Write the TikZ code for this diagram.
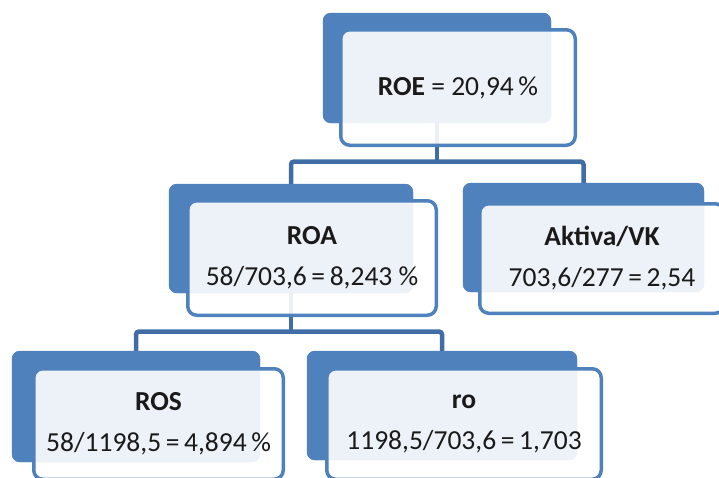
\documentclass[tikz,border=0pt]{standalone}
\usepackage{fontspec}
\setmainfont{Carlito}
\definecolor{backblue}{RGB}{79,129,189}
\definecolor{linkblue}{RGB}{64,109,166}
\definecolor{txt}{RGB}{26,26,26}
\begin{document}
\begin{tikzpicture}[x=1pt,y=-1pt,
  backbox/.style={rectangle, rounded corners=8pt, fill=backblue, draw=none, inner sep=0pt},
  frontbox/.style={rectangle, rounded corners=9pt, draw=backblue, line width=3.5pt,
    fill=white, fill opacity=0.9, text opacity=1, text=txt, align=center, inner sep=0pt,
    font=\fontsize{27.5}{41}\selectfont},
  link/.style={draw=linkblue, line width=4.5pt, rounded corners=3pt}]
\useasboundingbox (0,0) rectangle (719,477);
\clip (0,0) rectangle (719,477);
% back boxes (nodes, placed first for connectors)
\path
  node[backbox, minimum width=228pt, minimum height=110pt] (roeB) at (437,68) {}
  node[backbox, minimum width=244pt, minimum height=109pt] (roaB) at (291,238.5) {}
  node[backbox, minimum width=241pt, minimum height=109pt] (akB) at (583.5,237.5) {}
  node[backbox, minimum width=248pt, minimum height=111pt] (rosB) at (136,406.5) {}
  node[backbox, minimum width=270pt, minimum height=109pt] (roB) at (442,405.5) {};
% junction coordinates
\coordinate (j1) at (437,161.5);
\coordinate (j2) at (291,331.5);
% connectors
\draw[link] (roaB.north) |- (j1) -| (akB.north);
\draw[link] (roeB.center) -- (j1);
\draw[link] (rosB.north) |- (j2) -| (roB.north);
\draw[link] (roaB.center) -- (j2);
% redraw back boxes over connectors
\fill[backblue, rounded corners=8pt] (roeB.north west) rectangle (roeB.south east);
\fill[backblue, rounded corners=8pt] (roaB.north west) rectangle (roaB.south east);
\fill[backblue, rounded corners=8pt] (akB.north west) rectangle (akB.south east);
\fill[backblue, rounded corners=8pt] (rosB.north west) rectangle (rosB.south east);
\fill[backblue, rounded corners=8pt] (roB.north west) rectangle (roB.south east);
% front boxes
\node[frontbox, minimum width=234.5pt, minimum height=115.5pt] (roe) at (458,87.5)
  {\textbf{ROE} = 20,94\,\%};
\node[frontbox, minimum width=248.5pt, minimum height=114.5pt] (roa) at (312,258)
  {\textbf{ROA}\\58/703,6\,=\,8,243 \%};
\node[frontbox, minimum width=244.5pt, minimum height=109.5pt] (ak) at (602,258.5)
  {\textbf{Aktiva/VK}\\703,6/277\,=\,2,54};
\node[frontbox, minimum width=249.5pt, minimum height=110.5pt] (ros) at (158.5,424)
  {\textbf{ROS}\\58/1198,5\,=\,4,894\,\%};
\node[frontbox, minimum width=274.5pt, minimum height=110.5pt] (ro) at (464,424)
  {\textbf{ro}\\1198,5/703,6\,=\,1,703};
\end{tikzpicture}
\end{document}
